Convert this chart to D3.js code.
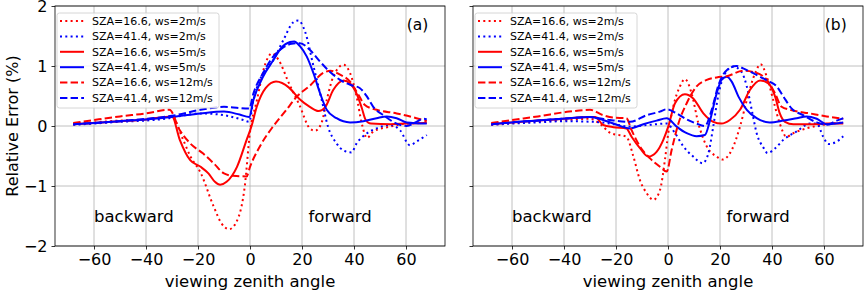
<!DOCTYPE html>
<html lang="en">
<head>
<meta charset="UTF-8">
<title>Relative error vs viewing zenith angle</title>
<script src="https://d3js.org/d3.v7.min.js"></script>
<style>
  body { margin: 0; background: #fff; }
  text { font-family: "DejaVu Sans", sans-serif; fill: #000; }
</style>
</head>
<body>
<script>
// series labels (legend order)
var labels = ['SZA=16.6, ws=2m/s', 'SZA=41.4, ws=2m/s', 'SZA=16.6, ws=5m/s',
              'SZA=41.4, ws=5m/s', 'SZA=16.6, ws=12m/s', 'SZA=41.4, ws=12m/s'];
var xTicks = [-60, -40, -20, 0, 20, 40, 60];
var yTicks = [-2, -1, 0, 1, 2];

// ---- panel (a) ----
var a_r2_x = [-68,-60,-50,-40,-30,-26,-23,-19,-14,-11,-8,-5,-2,0,2.5,6,8.5,11,15,19,23,25,27.5,29.5,32,36,38.5,41,43,45,47.5,54,60,68];
var a_r2_y = [0.03,0.06,0.09,0.11,0.15,-0.2,-0.5,-0.78,-1.34,-1.62,-1.72,-1.58,-1.0,-0.1,0.4,1.05,1.21,1.1,0.71,0.35,-0.04,-0.08,0.05,0.43,0.82,1.02,0.88,0.49,0.04,-0.2,-0.09,-0.01,0.04,0.05];
var a_b2_x = [-68,-60,-50,-40,-31,-25,-19,-10,-2.6,-0.3,1.3,3.8,9,12.8,16.7,18.6,21.2,24.4,27.6,30,33.3,36,39,41,45,48.7,53.8,57.7,61.5,64,68];
var a_b2_y = [0.02,0.04,0.07,0.09,0.13,0.18,0.21,0.18,0.1,0.07,0.43,0.77,1.1,1.43,1.73,1.76,1.57,1.0,0.43,-0.01,-0.29,-0.41,-0.44,-0.29,-0.12,-0.04,0.02,-0.07,-0.32,-0.26,-0.15];
var a_r5_x = [-68,-60,-50,-40,-30,-27,-23,-19,-16,-13.5,-11.5,-9,-5,-1.3,0.6,2.6,6,10,15,19,23,26.3,29,32,36,38.5,41,43,44.5,46.5,54,60,68];
var a_r5_y = [0.03,0.05,0.08,0.11,0.16,-0.23,-0.57,-0.68,-0.79,-0.93,-0.98,-0.93,-0.68,-0.23,0.0,0.32,0.63,0.74,0.64,0.45,0.32,0.25,0.32,0.6,0.76,0.71,0.54,0.3,0.1,0.04,0.03,0.04,0.05];
var a_b5_x = [-68,-60,-50,-40,-30,-19,-10,-4,-0.3,1.3,5,9,12,15.4,17,19.2,21.8,24.4,27,29.5,33.3,38.5,43.6,48.7,52.6,56.4,60.3,68];
var a_b5_y = [0.03,0.05,0.08,0.11,0.15,0.21,0.24,0.19,0.15,0.43,0.82,1.1,1.3,1.4,1.41,1.33,1.16,0.88,0.54,0.27,0.13,0.06,0.08,0.13,0.16,0.13,0.06,0.04];
var a_r12_x = [-68,-60,-50,-40,-31,-27,-23,-18,-14,-10,-6.5,-1.3,0,3.8,9,14,18,23,28,31,34.5,38.5,41.7,44.2,48.7,56.4,64,68];
var a_r12_y = [0.05,0.1,0.16,0.21,0.27,-0.07,-0.29,-0.46,-0.62,-0.79,-0.83,-0.84,-0.68,-0.34,0,0.27,0.49,0.67,0.88,0.92,0.86,0.74,0.52,0.35,0.27,0.21,0.13,0.08];
var a_b12_x = [-68,-60,-50,-40,-30,-19,-10,-0.3,1.3,5,9,12.5,16,19.2,23,27,30.8,34.6,39,42.3,45,47.4,51.3,56.4,60.3,64,66.7,68];
var a_b12_y = [0.03,0.05,0.08,0.12,0.17,0.27,0.32,0.29,0.54,0.88,1.16,1.3,1.37,1.38,1.27,1.07,0.9,0.77,0.68,0.63,0.49,0.32,0.18,0.04,0.0,0.07,0.12,0.11];

// ---- panel (b) ----
var b_r2_x = [-68,-60,-50,-40,-30,-26,-22,-16,-13.3,-10.8,-8.2,-5.6,-3.1,-1.2,0.1,2,4.6,6.5,9.1,11.7,14.9,18.7,21,24.5,27.7,30.3,33.5,35.6,38,40.5,43,45.6,48.2,53.3,59.7,67.4];
var b_r2_y = [0.02,0.05,0.08,0.1,0.12,0.03,-0.12,-0.18,-0.51,-0.9,-1.12,-1.23,-1.07,-0.57,-0.12,0.32,0.66,0.78,0.54,0.04,-0.34,-0.51,-0.56,-0.4,-0.01,0.43,0.88,1.03,0.82,0.43,0.04,-0.18,-0.12,-0.04,0.02,0.06];
var b_b2_x = [-68,-60,-50,-40,-29,-22,-14.6,-7,-0.5,2.7,5.9,9.7,13.3,15.5,17.4,19,21.3,25.1,28.3,30.3,32.2,34.1,36.7,38.3,41,44.4,49.5,54.6,57.2,59.7,61.7,64.9,67.4];
var b_b2_y = [0.02,0.04,0.06,0.08,0.07,0.04,-0.01,0.02,0.04,-0.12,-0.34,-0.51,-0.62,-0.46,-0.01,0.43,0.82,0.99,0.9,0.66,0.27,-0.12,-0.36,-0.45,-0.38,-0.23,-0.09,0.04,0.04,-0.18,-0.3,-0.26,-0.17];
var b_r5_x = [-68,-60,-50,-40,-30,-28,-25,-21,-16,-14,-10.8,-7.6,-4.4,-1.8,0.1,2.7,6.5,9.7,13.6,17.4,20.6,23.8,27.7,31.5,35.4,38.6,41.2,43,45,48.2,54.6,61,67.4];
var b_r5_y = [0.03,0.06,0.09,0.12,0.15,0.15,0.02,-0.02,-0.04,-0.18,-0.37,-0.51,-0.43,-0.23,-0.01,0.38,0.53,0.46,0.21,0.07,0.04,0.1,0.27,0.6,0.76,0.71,0.49,0.21,0.07,0.03,0.03,0.04,0.04];
var b_b5_x = [-68,-60,-50,-38,-30,-25,-19.7,-14.6,-9.5,-4.4,-0.5,3.3,7.2,11,14.2,16.2,18.7,20.6,22.6,24.5,27.1,30.3,34.1,39.1,44.4,49.5,53.3,57.2,61,67.4];
var b_b5_y = [0.03,0.06,0.09,0.13,0.15,0.1,0.02,-0.04,0.03,0.09,0.13,-0.01,-0.12,-0.17,-0.15,0.1,0.54,0.77,0.82,0.74,0.49,0.27,0.13,0.06,0.09,0.13,0.16,0.12,0.03,0.06];
var b_r12_x = [-68,-60,-50,-38,-30,-25,-21,-16,-14,-10.8,-6.9,-3.1,-0.5,1.4,4,7.2,11,14.9,18.7,22.6,29,32.8,38,41.2,43.7,46.9,54.6,61,67.4];
var b_r12_y = [0.05,0.1,0.16,0.24,0.27,0.18,0.14,0.13,-0.07,-0.34,-0.54,-0.68,-0.76,-0.4,0.04,0.38,0.66,0.77,0.81,0.83,0.92,0.9,0.77,0.54,0.32,0.27,0.21,0.16,0.12];
var b_b12_x = [-68,-60,-50,-38,-30,-22.3,-14.6,-8.2,-3.1,-0.5,3.3,7.2,11,14.2,16.8,19.4,22.6,26.4,28.9,32.8,38,41.8,44.4,47.6,52,57.2,61,64.9,67.4];
var b_b12_y = [0.03,0.06,0.09,0.13,0.15,0.1,0.07,0.18,0.24,0.28,0.21,0.11,0.04,0.0,0.27,0.68,0.93,1.0,0.96,0.88,0.76,0.66,0.49,0.29,0.18,0.06,0.02,0.09,0.13];

var colors = ['red', 'blue', 'red', 'blue', 'red', 'blue'];
var dashes = ['2,3.3', '2,3.3', null, null, '7.4,3.2', '7.4,3.2'];

var panels = [
  { left: 55, tag: '(a)', yLabels: true,
    xs: [a_r2_x, a_b2_x, a_r5_x, a_b5_x, a_r12_x, a_b12_x],
    ys: [a_r2_y, a_b2_y, a_r5_y, a_b5_y, a_r12_y, a_b12_y] },
  { left: 473, tag: '(b)', yLabels: false,
    xs: [b_r2_x, b_b2_x, b_r5_x, b_b5_x, b_r12_x, b_b12_x],
    ys: [b_r2_y, b_b2_y, b_r5_y, b_b5_y, b_r12_y, b_b12_y] }
];

var W = 864, H = 291;
var pw = 390, padTop = 6, ph = 240;

var svg = d3.select('body').append('svg')
  .attr('width', W).attr('height', H);

// y label (shared, left)
svg.append('text')
  .attr('transform', 'translate(12,' + (padTop + ph / 2) + ') rotate(-90)')
  .attr('text-anchor', 'middle')
  .attr('dy', '0.35em')
  .style('font-size', '16px')
  .text('Relative Error (%)');

panels.forEach(function(p) {
  var x = d3.scaleLinear().domain([-75, 75]).range([0, pw]);
  var y = d3.scaleLinear().domain([-2, 2]).range([ph, 0]);
  var g = svg.append('g').attr('transform', 'translate(' + p.left + ',' + padTop + ')');

  // grid
  g.append('g').selectAll('line').data(xTicks).enter().append('line')
    .attr('x1', d => x(d)).attr('x2', d => x(d))
    .attr('y1', 0).attr('y2', ph)
    .attr('stroke', '#b0b0b0').attr('stroke-width', 0.8);
  g.append('g').selectAll('line').data(yTicks).enter().append('line')
    .attr('x1', 0).attr('x2', pw)
    .attr('y1', d => y(d)).attr('y2', d => y(d))
    .attr('stroke', '#b0b0b0').attr('stroke-width', 0.8);

  // curves
  var line = d3.line()
    .x(d => x(d[0])).y(d => y(d[1]))
    .curve(d3.curveMonotoneX);
  g.append('defs').append('clipPath').attr('id', 'clip' + p.left)
    .append('rect').attr('width', pw).attr('height', ph);
  var cg = g.append('g').attr('clip-path', 'url(#clip' + p.left + ')');
  p.xs.forEach(function(xa, i) {
    var pts = xa.map((v, j) => [v, p.ys[i][j]]);
    cg.append('path')
      .attr('d', line(pts))
      .attr('fill', 'none')
      .attr('stroke', colors[i])
      .attr('stroke-width', 2)
      .attr('stroke-dasharray', dashes[i]);
  });

  // axes
  var xAxis = d3.axisBottom(x).tickValues(xTicks).tickSize(3.5).tickPadding(4)
    .tickFormat(d => d < 0 ? '\u2212' + Math.abs(d) : d);
  var gx = g.append('g').attr('transform', 'translate(0,' + ph + ')').call(xAxis);
  gx.select('.domain').remove();
  gx.selectAll('line').attr('stroke', '#000').attr('stroke-width', 0.8);
  gx.selectAll('text').style('font-size', '16px').attr('fill', '#000');

  var yAxis = d3.axisLeft(y).tickValues(yTicks).tickSize(3.5).tickPadding(4)
    .tickFormat(d => p.yLabels ? (d < 0 ? '\u2212' + Math.abs(d) : d) : '');
  var gy = g.append('g').call(yAxis);
  gy.select('.domain').remove();
  gy.selectAll('line').attr('stroke', '#000').attr('stroke-width', 0.8);
  gy.selectAll('text').style('font-size', '16px').attr('fill', '#000');

  // frame
  g.append('rect').attr('width', pw).attr('height', ph)
    .attr('fill', 'none').attr('stroke', '#000').attr('stroke-width', 0.8);

  // annotations
  g.append('text').attr('x', x(-60)).attr('y', y(-1.6))
    .style('font-size', '16.5px').text('backward');
  g.append('text').attr('x', x(22.5)).attr('y', y(-1.6))
    .style('font-size', '16.5px').text('forward');
  g.append('text').attr('x', x(60.3)).attr('y', y(1.6))
    .style('font-size', '15.5px').text(p.tag);

  g.append('text').attr('x', pw / 2).attr('y', ph + 41)
    .attr('text-anchor', 'middle')
    .style('font-size', '16.5px').text('viewing zenith angle');

  // legend
  var lg = g.append('g').attr('transform', 'translate(2,7)');
  lg.append('rect').attr('width', 162).attr('height', 95)
    .attr('rx', 2.5)
    .attr('fill', 'white').attr('fill-opacity', 0.8)
    .attr('stroke', '#cccccc').attr('stroke-width', 0.8);
  labels.forEach(function(lab, i) {
    var yy = 8 + i * 15.4;
    lg.append('line')
      .attr('x1', 3).attr('x2', 27).attr('y1', yy).attr('y2', yy)
      .attr('stroke', colors[i]).attr('stroke-width', 2)
      .attr('stroke-dasharray', dashes[i]);
    lg.append('text').attr('x', 35).attr('y', yy).attr('dy', '0.35em')
      .style('font-size', '11px').text(lab);
  });
});
</script>
</body>
</html>
